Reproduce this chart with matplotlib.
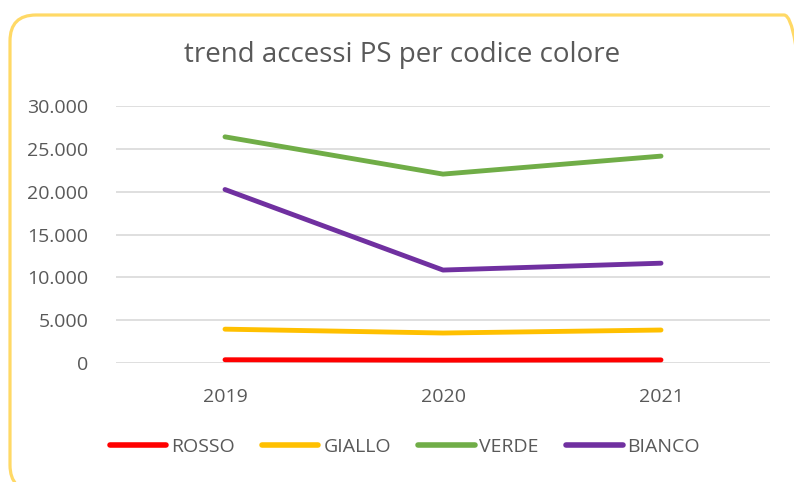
import matplotlib.pyplot as plt
from matplotlib.patches import FancyBboxPatch
from matplotlib.ticker import FuncFormatter

plt.rcParams['font.family'] = ['Open Sans', 'DejaVu Sans']

# data
years = ['2019', '2020', '2021']
rosso = [380, 330, 360]
giallo = [3950, 3500, 3850]
verde = [26400, 22050, 24150]
bianco = [20250, 10850, 11650]

series = [('ROSSO', rosso, '#FF0000'),
          ('GIALLO', giallo, '#FFC000'),
          ('VERDE', verde, '#70AD47'),
          ('BIANCO', bianco, '#7030A0')]

text_col = '#595959'

fig = plt.figure(figsize=(7.94, 4.82), dpi=100)

# background axes in pixel units (y up), used only for the rounded yellow frame
bg = fig.add_axes([0, 0, 1, 1], zorder=-1)
bg.set_xlim(0, 794)
bg.set_ylim(0, 482)
bg.axis('off')
bg.add_patch(FancyBboxPatch((10, -9), 800, 476,
                            boxstyle='round,pad=0,rounding_size=26',
                            facecolor='none', edgecolor='#FFD966', linewidth=2.3))

ax = fig.add_axes([116 / 794, 1 - 363 / 482, 654 / 794, 257 / 482])
ax.set_facecolor('none')

x = range(len(years))
for name, vals, col in series:
    ax.plot(x, vals, color=col, linewidth=3.5, solid_capstyle='round', label=name, zorder=3)

ax.set_xlim(-0.5, 2.5)
ax.set_ylim(0, 30000)
ax.set_yticks(range(0, 30001, 5000))
ax.yaxis.set_major_formatter(FuncFormatter(lambda v, p: f'{int(v):,}'.replace(',', '.')))
ax.set_xticks(list(x))
ax.set_xticklabels(years)

ax.grid(axis='y', color='#D9D9D9', linewidth=1.2, zorder=0)
for s in ax.spines.values():
    s.set_visible(False)
ax.tick_params(axis='both', length=0, labelsize=14, labelcolor=text_col)
ax.tick_params(axis='y', pad=20)
ax.tick_params(axis='x', pad=18)

fig.text(0.507, 1 - 55 / 482, 'trend accessi PS per codice colore', ha='center', va='center',
         fontsize=20, color=text_col)

leg = fig.legend(loc='center', bbox_to_anchor=(0.51, 1 - 447 / 482), ncol=4, frameon=False,
                 fontsize=14, handlelength=2.9, handletextpad=0.25, columnspacing=1.4)
for t in leg.get_texts():
    t.set_color(text_col)
for h in leg.legend_handles:
    h.set_linewidth(4)

fig.savefig('out.png', dpi=100)
